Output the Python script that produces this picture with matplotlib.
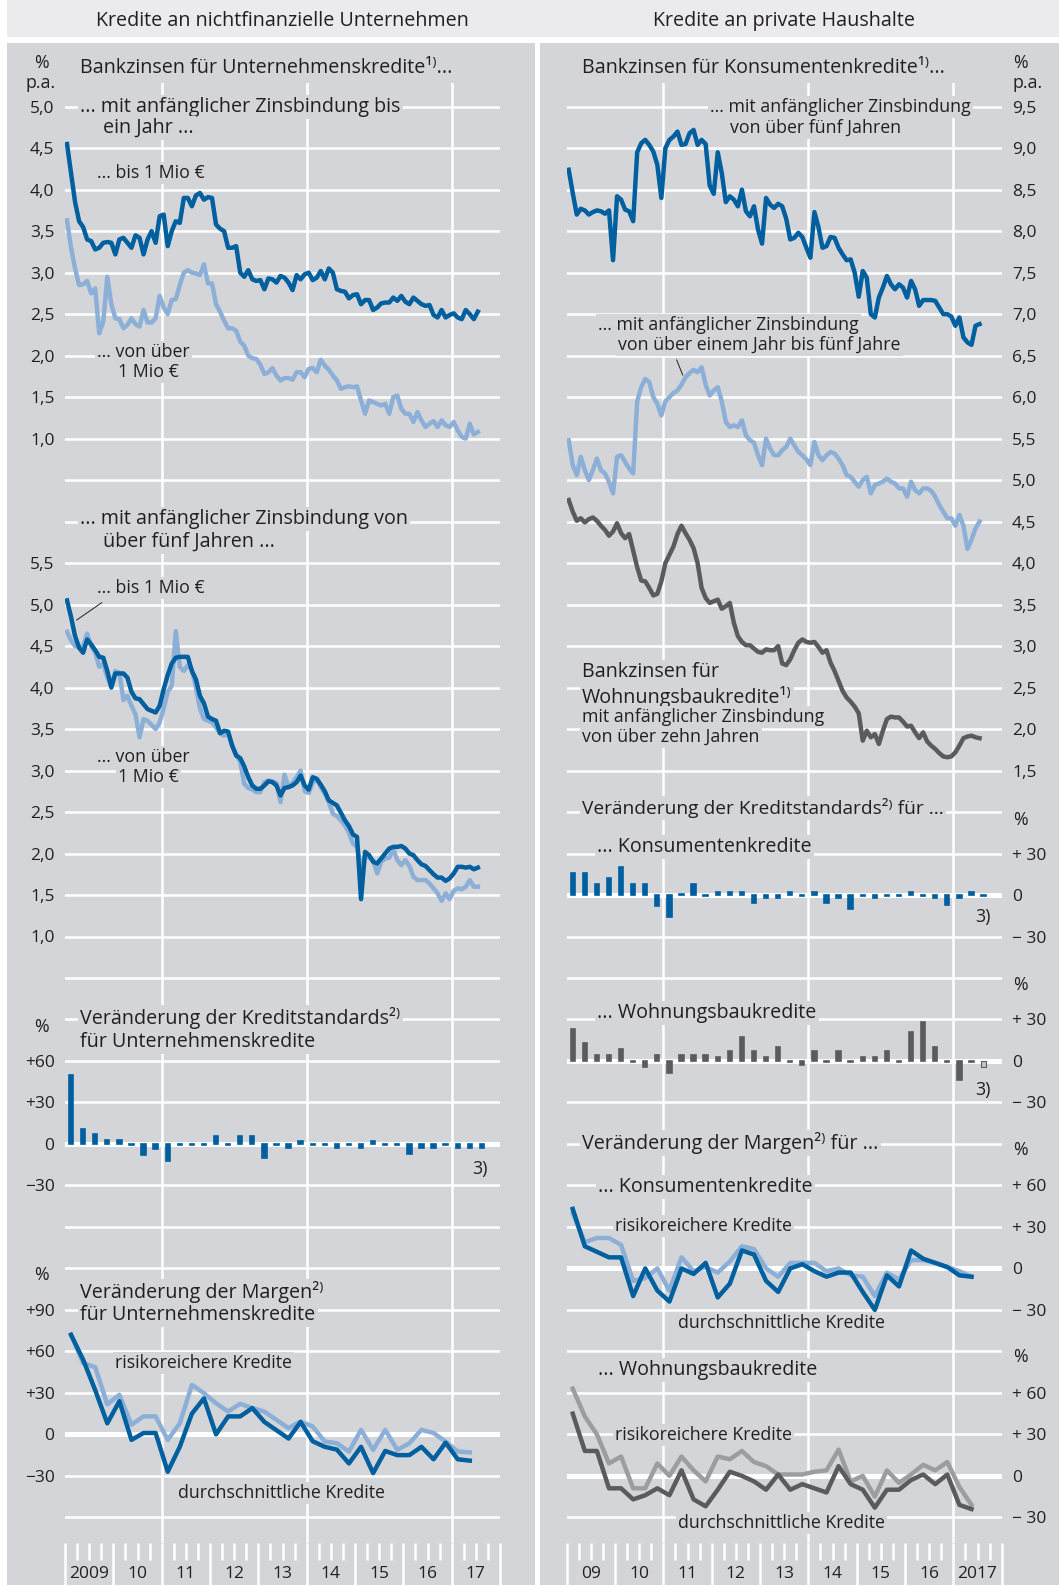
import numpy as np
import matplotlib.pyplot as plt
from matplotlib.patches import Rectangle
from matplotlib.lines import Line2D

plt.rcParams['font.family'] = ['Open Sans', 'DejaVu Sans']

W, H = 1059, 1585
BG = '#d4d5d8'
HEAD = '#ebebed'
TXT = '#231f20'
DBLUE = '#00609f'
LBLUE = '#8cafd7'
DGREY = '#5b5b5d'
LGREY = '#9c9d9f'

# Raster der weißen Hilfslinien (Pixel): Zeile k liegt bei Y0 + DY*k
Y0, DY = 106.7, 41.49
GTOP, GBOT = 83, 1543
LX0, LX1 = 65, 500          # linke Grafik
RX0, RX1 = 566.7, 1001.7    # rechte Grafik


def gy(k):
    return Y0 + DY * k


# Monatswerte Jan 2009 - Jul 2017, Quartalswerte 2009 Q1 - 2017 Q2 (+ Erwartung Q3)
months = 2009 + (np.arange(103) + 0.5) / 12
quarters = 2009 + (np.arange(34) + 0.5) / 4
quarters_bars = 2009 + (np.arange(35) + 0.5) / 4

# ---------------- Daten: Unternehmenskredite ----------------
kurz_bis1 = [4.55, 4.20, 3.85, 3.62, 3.55, 3.40, 3.38, 3.28, 3.30, 3.36, 3.37, 3.36,
             3.22, 3.40, 3.42, 3.36, 3.30, 3.45, 3.42, 3.22, 3.40, 3.50, 3.36, 3.68,
             3.70, 3.32, 3.50, 3.62, 3.60, 3.90, 3.90, 3.80, 3.93, 3.96, 3.88, 3.91,
             3.90, 3.58, 3.53, 3.50, 3.30, 3.30, 3.32, 3.00, 2.95, 3.03, 2.92, 2.90,
             2.91, 2.80, 2.93, 2.92, 2.88, 2.96, 2.94, 2.88, 2.79, 2.97, 2.92, 2.98,
             3.00, 2.91, 2.94, 3.02, 2.92, 3.05, 3.00, 2.80, 2.78, 2.77, 2.69, 2.73,
             2.74, 2.62, 2.67, 2.67, 2.55, 2.58, 2.63, 2.64, 2.64, 2.70, 2.66, 2.72,
             2.65, 2.62, 2.70, 2.66, 2.62, 2.60, 2.61, 2.49, 2.46, 2.55, 2.46, 2.49,
             2.51, 2.46, 2.44, 2.55, 2.50, 2.44, 2.53]
kurz_ueber1 = [3.63, 3.30, 3.05, 2.85, 2.86, 2.90, 2.75, 2.81, 2.27, 2.41, 2.95, 2.62,
               2.45, 2.44, 2.33, 2.37, 2.45, 2.38, 2.35, 2.55, 2.40, 2.40, 2.45, 2.72,
               2.58, 2.50, 2.67, 2.68, 2.85, 3.00, 3.03, 3.00, 2.99, 2.97, 3.10, 2.87,
               2.87, 2.62, 2.53, 2.42, 2.33, 2.33, 2.30, 2.17, 2.12, 2.00, 1.97, 1.96,
               1.89, 1.78, 1.80, 1.85, 1.76, 1.70, 1.73, 1.73, 1.71, 1.80, 1.80, 1.74,
               1.84, 1.85, 1.80, 1.95, 1.88, 1.83, 1.76, 1.70, 1.60, 1.62, 1.63, 1.62,
               1.63, 1.46, 1.30, 1.46, 1.44, 1.42, 1.40, 1.42, 1.30, 1.50, 1.52, 1.36,
               1.30, 1.30, 1.20, 1.32, 1.22, 1.14, 1.18, 1.21, 1.14, 1.22, 1.16, 1.14,
               1.20, 1.10, 1.02, 1.00, 1.18, 1.05, 1.08]
lang_bis1 = [5.05, 4.85, 4.62, 4.48, 4.42, 4.58, 4.52, 4.45, 4.37, 4.36, 4.20, 4.00,
             4.17, 4.17, 4.17, 4.12, 3.95, 3.87, 3.86, 3.80, 3.74, 3.72, 3.70, 3.78,
             3.98, 4.15, 4.29, 4.36, 4.37, 4.37, 4.37, 4.20, 4.10, 3.90, 3.81, 3.65,
             3.62, 3.60, 3.45, 3.48, 3.47, 3.30, 3.18, 3.15, 3.05, 2.92, 2.82, 2.78,
             2.78, 2.82, 2.87, 2.86, 2.82, 2.70, 2.79, 2.80, 2.82, 2.86, 2.94, 2.82,
             2.77, 2.92, 2.90, 2.83, 2.75, 2.64, 2.61, 2.58, 2.49, 2.40, 2.33, 2.23,
             2.20, 1.45, 2.02, 1.98, 1.90, 1.88, 1.94, 2.00, 2.06, 2.08, 2.08, 2.09,
             2.06, 2.00, 1.98, 1.92, 1.87, 1.85, 1.80, 1.75, 1.71, 1.71, 1.67, 1.70,
             1.76, 1.84, 1.84, 1.83, 1.84, 1.81, 1.83]
lang_ueber1 = [4.67, 4.57, 4.50, 4.49, 4.50, 4.65, 4.50, 4.42, 4.25, 4.29, 4.12, 4.02,
               4.20, 4.18, 3.85, 3.90, 3.78, 3.68, 3.40, 3.62, 3.60, 3.55, 3.50, 3.58,
               3.75, 3.95, 4.02, 4.68, 4.25, 4.20, 4.27, 4.22, 4.00, 3.75, 3.62, 3.60,
               3.58, 3.52, 3.45, 3.42, 3.44, 3.30, 3.20, 3.10, 2.84, 2.79, 2.77, 2.74,
               2.74, 2.86, 2.88, 2.87, 2.85, 2.62, 2.95, 2.80, 2.85, 2.92, 3.00, 2.75,
               2.73, 2.85, 2.90, 2.80, 2.72, 2.62, 2.48, 2.45, 2.40, 2.34, 2.25, 2.12,
               2.08, 1.85, 1.96, 1.95, 1.92, 1.76, 1.90, 1.94, 1.95, 2.05, 1.92, 1.86,
               1.92, 1.85, 1.72, 1.68, 1.68, 1.68, 1.64, 1.58, 1.52, 1.43, 1.52, 1.45,
               1.55, 1.58, 1.57, 1.60, 1.68, 1.60, 1.60]
std_unt = [50, 11, 7, 3, 3, -1, -8, -4, -12, -1, -1, -1, 6, -1, 6, 6, -10, -1,
           -3, 2, -1, -1, -3, -1, -3, 2, -1, -1, -7, -3, -3, -1, -3, -3, -3]
marg_unt_risk = [72, 51.5, 48.6, 21.7, 28.6, 7, 13, 13, -4, 8, 35.8, 29.8, 22.5, 16.5,
                 22.1, 19, 16.5, 10.5, 4.5, 9.3, 5.7, -5.2, -6.4, -12.4, 3.3, -11.2,
                 3.3, -11.2, -6.4, 3.3, 1, -5.2, -12.4, -13]
marg_unt_avg = [72, 54, 32, 8, 24, -4, 1, 1, -27, -9, 15, 26, 0, 13, 13, 19, 9, 3,
                -3, 9, -5, -9, -11, -21, -9, -28, -12, -15, -15, -9, -18, -6, -18, -19]

# ---------------- Daten: private Haushalte ----------------
kons_5j = [8.74, 8.46, 8.20, 8.27, 8.25, 8.20, 8.23, 8.25, 8.24, 8.21, 8.25, 7.65,
           8.42, 8.38, 8.26, 8.24, 8.12, 8.95, 9.06, 9.10, 9.04, 8.96, 8.80, 8.40,
           9.00, 9.10, 9.14, 9.20, 9.04, 9.05, 9.18, 9.22, 9.04, 9.10, 9.05, 8.55,
           8.45, 8.95, 8.70, 8.35, 8.42, 8.38, 8.30, 8.50, 8.24, 8.18, 8.30, 8.02,
           7.85, 8.40, 8.32, 8.28, 8.33, 8.30, 8.15, 7.90, 7.92, 7.98, 7.93, 7.80,
           7.68, 8.23, 8.05, 7.80, 7.82, 7.93, 7.92, 7.80, 7.72, 7.65, 7.66, 7.50,
           7.21, 7.52, 7.44, 7.00, 6.96, 7.20, 7.32, 7.46, 7.36, 7.30, 7.36, 7.32,
           7.20, 7.40, 7.30, 7.10, 7.17, 7.17, 7.17, 7.16, 7.08, 7.00, 7.00, 6.97,
           6.86, 6.96, 6.72, 6.66, 6.63, 6.86, 6.88]
kons_1_5j = [5.48, 5.18, 5.06, 5.28, 5.12, 5.00, 5.12, 5.26, 5.12, 5.08, 4.98, 4.84,
             5.28, 5.30, 5.22, 5.14, 5.08, 5.95, 6.12, 6.22, 6.18, 6.00, 5.92, 5.78,
             5.95, 6.00, 6.05, 6.08, 6.15, 6.24, 6.29, 6.33, 6.30, 6.36, 6.15, 6.02,
             6.08, 6.12, 5.95, 5.70, 5.64, 5.66, 5.64, 5.72, 5.54, 5.48, 5.45, 5.30,
             5.18, 5.50, 5.38, 5.30, 5.30, 5.36, 5.40, 5.50, 5.42, 5.34, 5.30, 5.25,
             5.18, 5.46, 5.30, 5.24, 5.30, 5.34, 5.32, 5.26, 5.18, 5.06, 5.04, 4.98,
             4.92, 5.00, 5.04, 4.84, 4.94, 4.96, 4.98, 5.02, 4.98, 4.96, 4.90, 4.90,
             4.80, 4.98, 4.88, 4.84, 4.90, 4.90, 4.87, 4.80, 4.70, 4.62, 4.54, 4.54,
             4.45, 4.58, 4.45, 4.17, 4.28, 4.42, 4.50]
wohn_10j = [4.76, 4.62, 4.51, 4.54, 4.49, 4.53, 4.55, 4.51, 4.45, 4.40, 4.33, 4.38,
            4.48, 4.36, 4.30, 4.35, 4.15, 3.95, 3.79, 3.78, 3.70, 3.61, 3.63, 3.78,
            4.00, 4.10, 4.20, 4.35, 4.45, 4.36, 4.28, 4.18, 4.00, 3.70, 3.58, 3.52,
            3.54, 3.56, 3.45, 3.48, 3.52, 3.28, 3.12, 3.05, 3.01, 3.01, 2.97, 2.93,
            2.92, 2.96, 2.95, 2.95, 3.00, 2.79, 2.77, 2.84, 2.95, 3.04, 3.08, 3.05,
            3.04, 3.05, 2.99, 2.92, 2.95, 2.80, 2.70, 2.58, 2.46, 2.38, 2.33, 2.27,
            2.19, 1.86, 1.98, 1.90, 1.94, 1.82, 1.98, 2.12, 2.15, 2.14, 2.14, 2.09,
            2.03, 2.04, 1.96, 1.89, 1.96, 1.85, 1.80, 1.76, 1.71, 1.67, 1.66, 1.67,
            1.72, 1.80, 1.89, 1.91, 1.92, 1.90, 1.89]
std_kons = [16, 16, 8, 12, 20, 8, 8, -8, -16, 1, 8, -1, 2, 2, 2, -6, -2, -2,
            2, -1, 2, -6, -2, -10, -1, -2, -1, -1, 2, -1, -2, -7, -2, 2, -1]
std_wohn = [23, 13, 4, 4, 9, -1, -4, 4, -9, 4, 4, 4, 3, 7, 17, 7, 3, 10,
            -1, -3, 7, -1, 7, -1, 3, 3, 7, -1, 21, 28, 10, -1, -14, -1, -4]
marg_kons_risk = [40, 19, 22, 22, 17, -9, -7, 0, -16, 8, -2, 1, -3, 5, 16, 14, 0,
                  -6, 4, 4, 4, -2, 0, -5, -6, -20, -3, -8, 6, 6, 4, 1, -2, -6]
marg_kons_avg = [43, 16, 12, 8, 8, -20, 0, -16, -24, 0, -4, 4, -21, -11, 13, 10, -9,
                 -17, 0, 3, -2, -6, -3, -3, -17, -30, -5, -13, 13, 7, 4, 1, -5, -6]
marg_wohn_risk = [63, 43, 30, 9, 14, -9, -9, 9, 0, 14, 4, -4, 14, 12, 18, 10, 7,
                  1, 1, 1, 3, 4, 19, -4, 0, -15, 4, -5, 1, 8, 4, 10, -8, -21]
marg_wohn_avg = [45, 18, 18, -9, -9, -17, -14, -9, -14, 4, -17, -22, -10, 3, 0, -4,
                 -10, 1, -10, -6, -9, -12, 7, -6, -10, -23, -10, -10, -3, 1, -6, 1,
                 -21, -24]

fig = plt.figure(figsize=(W / 100, H / 100), dpi=100)
fig.patch.set_facecolor('white')

# Hintergründe
fig.add_artist(Rectangle((7 / W, 1 - 37 / H), (W - 7) / W, 37 / H,
                         transform=fig.transFigure, fc=HEAD, ec='none', zorder=-5))
fig.add_artist(Rectangle((7 / W, 0), (535 - 7) / W, (H - 43) / H,
                         transform=fig.transFigure, fc=BG, ec='none', zorder=-5))
fig.add_artist(Rectangle((540 / W, 0), (W - 540) / W, (H - 43) / H,
                         transform=fig.transFigure, fc=BG, ec='none', zorder=-5))
fig.text(282 / W, 1 - 21 / H, 'Kredite an nichtfinanzielle Unternehmen',
         ha='center', va='center', fontsize=14.2, color=TXT)
fig.text(784 / W, 1 - 21 / H, 'Kredite an private Haushalte',
         ha='center', va='center', fontsize=14.2, color=TXT)


def make_axes(x0, x1, k0, k1, v0, dv, ticks, labels, side):
    # Wert in Rasterzeile k: v0 + dv*k
    ytop = GTOP if k0 is None else gy(k0)
    ybot = GBOT if k1 is None else gy(k1)
    ax = fig.add_axes([x0 / W, 1 - ybot / H, (x1 - x0) / W, (ybot - ytop) / H])
    kt = (ytop - Y0) / DY
    kb = (ybot - Y0) / DY
    ax.set_xlim(2009, 2018)
    ax.set_ylim(v0 + dv * kb, v0 + dv * kt)
    ax.patch.set_visible(False)
    for s in ax.spines.values():
        s.set_visible(False)
    ax.set_axisbelow(True)
    ax.set_xticks([2011, 2014, 2017])
    ax.set_yticks(ticks, labels)
    ax.grid(True, color='white', lw=1.8)
    ax.tick_params(axis='x', length=0, labelbottom=False)
    if side == 'right':
        ax.yaxis.tick_right()
    ax.tick_params(axis='y', length=0, labelsize=12.5, labelcolor=TXT, pad=7.5)
    return ax


def label(ax, x, y, s, size=12, ha='left', box=True):
    kw = {}
    if box:
        kw['bbox'] = dict(boxstyle='square,pad=0.12', fc=BG, ec='none')
    ax.text(x / W, 1 - y / H, s, transform=fig.transFigure, fontsize=size,
            color=TXT, ha=ha, va='center', zorder=3, **kw)


def leader(ax, x0, y0, x1, y1):
    ax.add_line(Line2D([x0 / W, x1 / W], [1 - y0 / H, 1 - y1 / H],
                       transform=fig.transFigure, color=TXT, lw=0.7, zorder=3))


def year_strip(x0, x1, labels):
    ax = fig.add_axes([x0 / W, 0, (x1 - x0) / W, (H - GBOT) / H])
    ax.set_xlim(2009, 2018)
    ax.set_ylim(0, 1)
    ax.patch.set_visible(False)
    for s in ax.spines.values():
        s.set_visible(False)
    ax.xaxis.set_ticks_position('top')
    ax.set_xticks(np.arange(2009, 2019))
    ax.set_xticks([y + q / 4 for y in range(2009, 2018) for q in (1, 2, 3)], minor=True)
    ax.tick_params(axis='x', which='major', direction='in', length=30.5, width=1.8,
                   color='white', labeltop=False, labelbottom=False)
    ax.tick_params(axis='x', which='minor', direction='in', length=12.2, width=1.8,
                   color='white')
    ax.set_yticks([])
    for i, lab in enumerate(labels):
        ax.text(2009.5 + i, 0.26, lab, ha='center', va='center', fontsize=12.5, color=TXT)


def rate_fmt(vals, skip=()):
    return ['' if round(v, 1) in skip else f'{v:.1f}'.replace('.', ',') for v in vals]


LW = 3.2
HS, SS = 14.2, 12.8

# ================= linke Seite =================
t = np.arange(0.5, 5.01, 0.5)
ax = make_axes(LX0, LX1, None, 9.5, 5.0, -0.5, t, rate_fmt(t, (0.5,)), 'left')
ax.plot(months, kurz_ueber1, color=LBLUE, lw=LW, zorder=4)
ax.plot(months, kurz_bis1, color=DBLUE, lw=LW, zorder=5)
label(ax, 41, 63, '%', SS, 'center', False)
label(ax, 41, 83, 'p.a.', SS, 'center', False)
label(ax, 80, 68, 'Bankzinsen für Unternehmenskredite¹⁾...', HS, box=False)
label(ax, 80, 107, '... mit anfänglicher Zinsbindung bis', HS)
label(ax, 103, 128, 'ein Jahr ...', HS)
label(ax, 97, 173, '... bis 1 Mio €', SS)
label(ax, 97, 352, '... von über', SS)
label(ax, 118, 372, '1 Mio €', SS)

t = np.arange(0.5, 6.01, 0.5)
ax = make_axes(LX0, LX1, 9.5, 21.5, 11.0, -0.5, t, rate_fmt(t, (0.5, 6.0)), 'left')
ax.plot(months, lang_ueber1, color=LBLUE, lw=LW, zorder=4)
ax.plot(months, lang_bis1, color=DBLUE, lw=LW, zorder=5)
label(ax, 80, 519, '... mit anfänglicher Zinsbindung von', HS)
label(ax, 103, 542, 'über fünf Jahren ...', HS)
label(ax, 97, 588, '... bis 1 Mio €', SS)
leader(ax, 76.7, 620, 101.7, 602.7)
label(ax, 97, 757, '... von über', SS)
label(ax, 118, 777, '1 Mio €', SS)

ax = make_axes(LX0, LX1, 21.5, 27.5, 750, -30, [-60, -30, 0, 30, 60, 90],
               ['', '−30', '0', '+30', '+60', ''], 'left')
ax.axhline(0, color='white', lw=3.6, zorder=2)
ax.bar(quarters_bars, std_unt, width=0.09, color=DBLUE, ec=DBLUE, lw=1.2, zorder=4)
label(ax, 41, 1027, '%', SS, 'center', False)
label(ax, 80, 1018, 'Veränderung der Kreditstandards²⁾', HS)
label(ax, 80, 1042, 'für Unternehmenskredite', HS)
label(ax, 480, 1169, '3)', SS, 'center', False)

ax = make_axes(LX0, LX1, 27.5, None, 960, -30, [-60, -30, 0, 30, 60, 90, 120],
               ['', '−30', '0', '+30', '+60', '+90', ''], 'left')
ax.axhline(0, color='white', lw=3.6, zorder=2)
ax.plot(quarters, marg_unt_risk, color=LBLUE, lw=LW, zorder=4)
ax.plot(quarters, marg_unt_avg, color=DBLUE, lw=LW, zorder=5)
label(ax, 41, 1275, '%', SS, 'center', False)
label(ax, 80, 1292, 'Veränderung der Margen²⁾', HS)
label(ax, 80, 1315, 'für Unternehmenskredite', HS)
label(ax, 115, 1363, 'risikoreichere Kredite', SS)
label(ax, 178, 1493, 'durchschnittliche Kredite', SS)

year_strip(LX0, LX1, ['2009', '10', '11', '12', '13', '14', '15', '16', '17'])

# ================= rechte Seite =================
t = np.arange(1.5, 9.51, 0.5)
ax = make_axes(RX0, RX1, None, 16.5, 9.5, -0.5, t, rate_fmt(t), 'right')
ax.plot(months, kons_1_5j, color=LBLUE, lw=LW, zorder=4)
ax.plot(months, kons_5j, color=DBLUE, lw=LW, zorder=5)
ax.plot(months, wohn_10j, color=DGREY, lw=LW, zorder=5)
label(ax, 1013, 63, '%', SS, 'left', False)
label(ax, 1013, 83, 'p.a.', SS, 'left', False)
label(ax, 582, 68, 'Bankzinsen für Konsumentenkredite¹⁾...', HS, box=False)
label(ax, 710, 107, '... mit anfänglicher Zinsbindung', SS)
label(ax, 730, 128, 'von über fünf Jahren', SS)
label(ax, 598, 325, '... mit anfänglicher Zinsbindung', SS)
label(ax, 618, 345, 'von über einem Jahr bis fünf Jahre', SS)
leader(ax, 676.7, 360, 682.7, 375)
label(ax, 582, 697, 'Wohnungsbaukredite¹⁾', HS)
label(ax, 582, 672, 'Bankzinsen für', HS)
label(ax, 582, 717, 'mit anfänglicher Zinsbindung', SS)
label(ax, 582, 737, 'von über zehn Jahren', SS)

ax = make_axes(RX0, RX1, 16.5, 20.5, 570, -30, [-30, 0, 30, 60],
               ['− 30', '0', '+ 30', ''], 'right')
ax.axhline(0, color='white', lw=3.6, zorder=2)
ax.bar(quarters_bars, std_kons, width=0.09, color=DBLUE, ec=DBLUE, lw=1.2, zorder=4)
label(ax, 582, 808, 'Veränderung der Kreditstandards²⁾ für ...', 13.8)
label(ax, 1013, 820, '%', SS, 'left', False)
label(ax, 597, 847, '... Konsumentenkredite', HS)
label(ax, 983, 917, '3)', SS, 'center', False)

ax = make_axes(RX0, RX1, 20.5, 24.5, 690, -30, [-30, 0, 30, 60],
               ['− 30', '0', '+ 30', ''], 'right')
ax.axhline(0, color='white', lw=3.6, zorder=2)
bars = ax.bar(quarters_bars, std_wohn, width=0.09, color=DGREY, ec=DGREY, lw=1.2, zorder=4)
bars[-1].set_facecolor('#c4c5c7')
bars[-1].set_linewidth(0.8)
label(ax, 1013, 985, '%', SS, 'left', False)
label(ax, 597, 1013, '... Wohnungsbaukredite', HS)
label(ax, 983, 1090, '3)', SS, 'center', False)

ax = make_axes(RX0, RX1, 24.5, 29.5, 840, -30, [-30, 0, 30, 60, 90],
               ['− 30', '0', '+ 30', '+ 60', ''], 'right')
ax.axhline(0, color='white', lw=3.6, zorder=2)
ax.plot(quarters, marg_kons_risk, color=LBLUE, lw=LW, zorder=4)
ax.plot(quarters, marg_kons_avg, color=DBLUE, lw=LW, zorder=5)
label(ax, 582, 1143, 'Veränderung der Margen²⁾ für ...', HS)
label(ax, 1013, 1150, '%', SS, 'left', False)
label(ax, 598, 1187, '... Konsumentenkredite', HS)
label(ax, 615, 1226, 'risikoreichere Kredite', SS)
label(ax, 678, 1323, 'durchschnittliche Kredite', SS)

ax = make_axes(RX0, RX1, 29.5, None, 990, -30, [-30, 0, 30, 60, 90],
               ['− 30', '0', '+ 30', '+ 60', ''], 'right')
ax.axhline(0, color='white', lw=3.6, zorder=2)
ax.plot(quarters, marg_wohn_risk, color=LGREY, lw=LW, zorder=4)
ax.plot(quarters, marg_wohn_avg, color=DGREY, lw=LW, zorder=5)
label(ax, 1013, 1357, '%', SS, 'left', False)
label(ax, 598, 1370, '... Wohnungsbaukredite', HS)
label(ax, 615, 1435, 'risikoreichere Kredite', SS)
label(ax, 678, 1523, 'durchschnittliche Kredite', SS)

year_strip(RX0, RX1, ['09', '10', '11', '12', '13', '14', '15', '16', '2017'])

fig.savefig('out.png', dpi=100)
